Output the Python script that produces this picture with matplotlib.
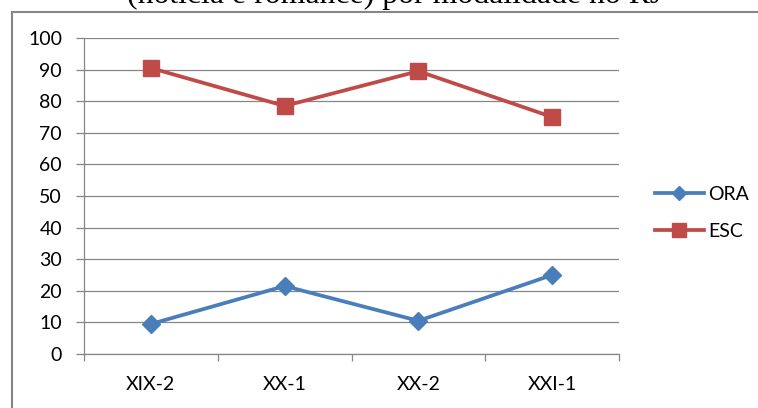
import matplotlib
matplotlib.use('Agg')
import matplotlib.pyplot as plt
from matplotlib.lines import Line2D

# Dados do gráfico
periodos = ['XIX-2', 'XX-1', 'XX-2', 'XXI-1']
ora = [9.5, 21.5, 10.5, 25]
esc = [90.5, 78.5, 89.5, 75]
titulo = '(notícia e romance) por modalidade no RJ'

W, H = 758, 408
fig = plt.figure(figsize=(W / 100, H / 100), dpi=100)

grid_cor = '#868686'
fonte = 'Lato'

ax = fig.add_axes([84 / W, 1 - 354 / H, (619 - 84) / W, (354 - 38) / H])
x = list(range(len(periodos)))
ax.plot(x, ora, color='#4A7EBB', lw=2.7, marker='D', markersize=9.5,
        label='ORA', zorder=3)
ax.plot(x, esc, color='#BE4B48', lw=2.7, marker='s', markersize=12,
        label='ESC', zorder=3)

ax.set_xlim(-0.5, len(periodos) - 0.5)
ax.set_ylim(0, 100)
ax.set_yticks(range(0, 101, 10))
ax.set_xticks(x)
ax.set_xticklabels(periodos)
ax.set_xticks([i - 0.5 for i in range(len(periodos) + 1)], minor=True)

ax.yaxis.grid(True, color=grid_cor, lw=0.9)
ax.set_axisbelow(True)
for s in ['top', 'right']:
    ax.spines[s].set_visible(False)
for s in ['left', 'bottom']:
    ax.spines[s].set_color(grid_cor)
    ax.spines[s].set_linewidth(0.9)

ax.tick_params(axis='y', length=5.8, width=0.9, color=grid_cor, pad=10,
               labelsize=14, labelcolor='#000000')
ax.tick_params(axis='x', which='major', length=0, pad=16, labelsize=14)
ax.tick_params(axis='x', which='minor', length=5, width=0.9, color=grid_cor)
for lab in ax.get_xticklabels() + ax.get_yticklabels():
    lab.set_family(fonte)

leg = ax.legend(loc='center left', bbox_to_anchor=(655 / W, 1 - 213 / H),
                bbox_transform=fig.transFigure, frameon=False,
                borderpad=0, borderaxespad=0, handlelength=2.5,
                handletextpad=0.25, labelspacing=1.05, markerscale=0.8,
                prop={'family': fonte, 'size': 14})

# moldura do gráfico (só as bordas esquerda e superior aparecem)
fig.add_artist(Line2D([12 / W, 12 / W], [0, 1 - 12 / H], color=grid_cor, lw=1.5,
                      transform=fig.transFigure))
fig.add_artist(Line2D([12 / W, 1], [1 - 12 / H, 1 - 12 / H], color=grid_cor, lw=1.5,
                      transform=fig.transFigure))

# título cortado no topo
t = fig.text(395 / W, 1 - 3.5 / H, titulo, ha='center', va='baseline',
             family='Liberation Serif', fontsize=21)
fig.canvas.draw()
larg = t.get_window_extent().width
t.set_fontsize(21 * 534 / larg)

fig.savefig('out.png', dpi=100)
